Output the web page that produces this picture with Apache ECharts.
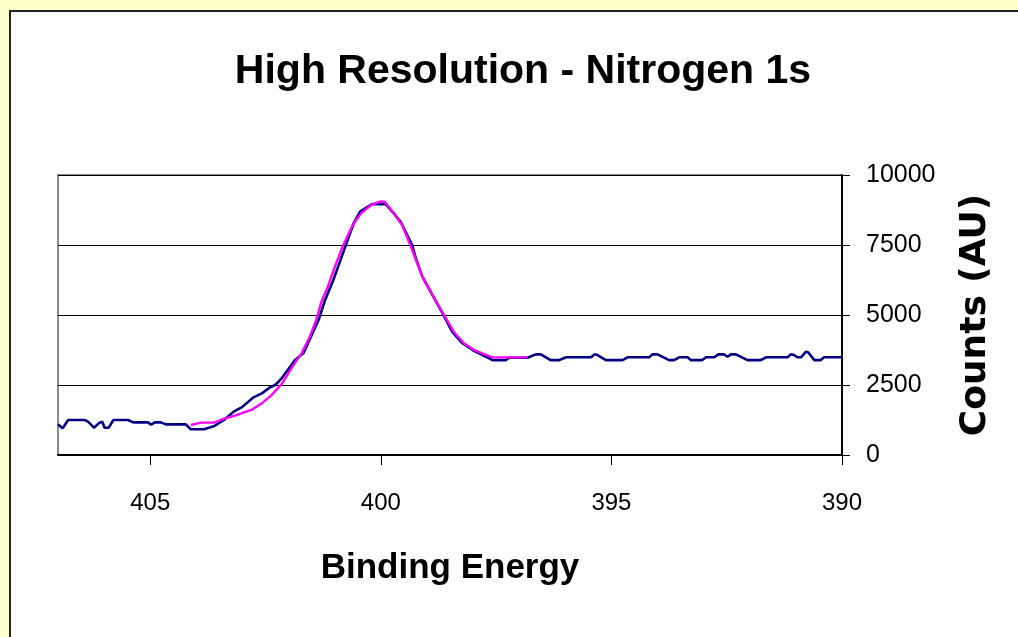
<!DOCTYPE html>
<html>
<head>
<meta charset="utf-8">
<title>High Resolution - Nitrogen 1s</title>
<script src="https://cdn.jsdelivr.net/npm/echarts@6/dist/echarts.min.js"></script>
<style>
  html, body { margin: 0; padding: 0; background: #FFFFCC; }
  #chart { width: 1018px; height: 637px; }
</style>
</head>
<body>
<div id="chart"></div>
<script>
// Measured spectrum: binding energy (eV) and counts
const measuredEnergy = [
  407.0, 406.9, 406.78, 406.42, 406.35, 406.22, 406.1, 406.04, 405.99, 405.9,
  405.8, 405.48, 405.37, 405.05, 404.98, 404.9, 404.77, 404.66, 404.23, 404.12,
  403.83, 403.61, 403.4, 403.18, 403.01, 402.76, 402.58, 402.4, 402.29, 402.15,
  401.86, 401.68, 401.53, 401.35, 401.21, 401.03, 400.77, 400.59, 400.45, 400.19,
  399.9, 399.72, 399.57, 399.43, 399.32, 399.24, 399.1, 398.88, 398.66, 398.45,
  398.23, 398.01, 397.72, 397.58, 397.29, 397.22, 396.82, 396.64, 396.53, 396.32,
  396.13, 395.98, 395.44, 395.37, 395.3, 395.12, 394.76, 394.65, 394.18, 394.11,
  394.0, 393.75, 393.64, 393.53, 393.35, 393.28, 393.03, 392.95, 392.77, 392.68,
  392.56, 392.48, 392.41, 392.3, 392.05, 391.76, 391.65, 391.18, 391.11, 391.04,
  390.97, 390.89, 390.78, 390.73, 390.6, 390.46, 390.39, 390.0
];
const measuredCounts = [
  1100, 950, 1250, 1250, 1190, 975, 1155, 1190, 975, 975,
  1250, 1250, 1165, 1165, 1085, 1165, 1165, 1095, 1095, 920,
  920, 1035, 1250, 1560, 1710, 2060, 2200, 2420, 2500, 2740,
  3390, 3630, 4170, 4820, 5530, 6250, 7440, 8270, 8690, 8960,
  8970, 8630, 8330, 7860, 7500, 7020, 6370, 5710, 5060, 4400,
  3990, 3750, 3510, 3390, 3390, 3475, 3475, 3595, 3595, 3390,
  3390, 3490, 3490, 3595, 3570, 3390, 3390, 3490, 3490, 3595,
  3595, 3390, 3390, 3490, 3490, 3390, 3390, 3490, 3490, 3595,
  3595, 3510, 3595, 3595, 3390, 3390, 3490, 3490, 3595, 3570,
  3490, 3490, 3690, 3660, 3390, 3390, 3490, 3490
];

// Fitted peak envelope
const fitEnergy = [
  404.12, 403.9, 403.61, 403.4, 403.18, 402.78, 402.58, 402.37, 402.15, 401.94,
  401.72, 401.54, 401.4, 401.3, 401.15, 401.01, 400.83, 400.61, 400.43, 400.21,
  400.0, 399.91, 399.72, 399.54, 399.36, 399.24, 399.1, 398.88, 398.63, 398.42,
  398.2, 397.95, 397.58, 396.82
];
const fitCounts = [
  1070, 1155, 1155, 1300, 1400, 1630, 1845, 2140, 2535, 3095,
  3630, 4226, 4820, 5417, 6012, 6667, 7440, 8214, 8630, 8930,
  9060, 9035, 8630, 8214, 7500, 6964, 6370, 5714, 5000, 4403,
  3990, 3725, 3488, 3488
];

// Axis ticks
const energyTicks = [405, 400, 395, 390];
const countTicks = [0, 2500, 5000, 7500, 10000];

const pairs = (xs, ys) => xs.map((x, i) => [x, ys[i]]);

const FONT = 'Liberation Sans, Arial, sans-serif';

const chart = echarts.init(document.getElementById('chart'), null, { renderer: 'canvas' });

chart.setOption({
  backgroundColor: '#FFFFCC',
  animation: false,
  graphic: [{
    type: 'rect',
    z: -10,
    shape: { x: 10, y: 11, width: 1040, height: 660 },
    style: { fill: '#FFFFFF', stroke: '#222222', lineWidth: 2 }
  }],
  title: {
    text: 'High Resolution - Nitrogen 1s',
    left: 518,
    top: 46,
    textAlign: 'center',
    textStyle: {
      fontFamily: FONT,
      fontWeight: 'bold',
      fontSize: 41,
      color: '#000000'
    }
  },
  grid: {
    left: 58, right: 176, top: 175, bottom: 182,
    show: true,
    borderColor: '#8C8C8C',
    borderWidth: 2,
    backgroundColor: 'transparent'
  },
  xAxis: {
    type: 'value',
    min: 390,
    max: 407,
    interval: 5,
    inverse: true,
    name: 'Binding Energy',
    nameLocation: 'middle',
    nameGap: 96,
    nameTextStyle: {
      fontFamily: FONT,
      fontWeight: 'bold',
      fontSize: 35,
      color: '#000000'
    },
    axisLine: { show: true, lineStyle: { color: '#000000', width: 2 } },
    axisTick: { show: true, length: 10, customValues: energyTicks, lineStyle: { color: '#000000', width: 1 } },
    axisLabel: {
      customValues: energyTicks,
      margin: 36,
      fontFamily: FONT,
      fontSize: 24,
      color: '#000000',
      formatter: v => String(v)
    },
    splitLine: { show: false }
  },
  yAxis: {
    type: 'value',
    position: 'right',
    min: 0,
    max: 10000,
    interval: 2500,
    name: 'Counts (AU)',
    nameLocation: 'middle',
    nameRotate: 90,
    nameGap: 116,
    nameTextStyle: {
      fontFamily: 'DejaVu Sans',
      fontWeight: 'bold',
      fontSize: 36,
      color: '#000000'
    },
    axisLine: { show: true, lineStyle: { color: '#000000', width: 2 } },
    axisTick: { show: true, length: 8, customValues: countTicks, lineStyle: { color: '#000000', width: 1 } },
    axisLabel: {
      customValues: countTicks,
      margin: 24,
      fontFamily: FONT,
      fontSize: 25,
      color: '#000000',
      formatter: v => String(v)
    },
    splitLine: { show: true, lineStyle: { color: '#000000', width: 1 } }
  },
  series: [
    {
      type: 'line',
      data: pairs(measuredEnergy, measuredCounts),
      showSymbol: false,
      lineStyle: { color: '#000080', width: 2.6 },
      z: 2
    },
    {
      type: 'line',
      data: pairs(fitEnergy, fitCounts),
      showSymbol: false,
      lineStyle: { color: '#FF00FF', width: 2.4 },
      z: 3
    }
  ]
});
</script>
</body>
</html>
